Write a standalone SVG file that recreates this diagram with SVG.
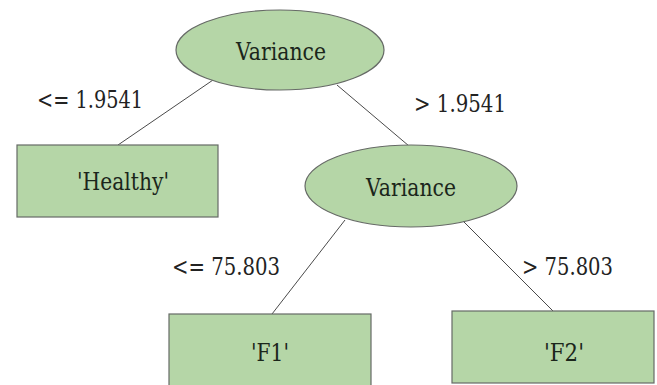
<svg xmlns="http://www.w3.org/2000/svg" width="657" height="385" viewBox="0 0 657 385">
  <style>
    .node { fill: #b5d6a7; stroke: #666a66; stroke-width: 1.2; }
    .edge { stroke: #4a4a4a; stroke-width: 1; fill: none; }
    text { fill: #1b261b; font-family: "DejaVu Serif", "Liberation Serif", serif; font-size: 24px; }
    .cond { fill: #222222; }
  </style>
  <rect width="657" height="385" fill="#ffffff"/>

  <g id="connectors">
    <line class="edge" x1="213" y1="80" x2="118" y2="145"/>
    <line class="edge" x1="337" y1="85" x2="409" y2="146"/>
    <line class="edge" x1="345" y1="220" x2="272" y2="314"/>
    <line class="edge" x1="462" y1="220" x2="553" y2="311"/>
  </g>

  <g id="edge-labels">
    <text class="cond" x="37" y="108" textLength="106" lengthAdjust="spacingAndGlyphs">&lt;= 1.9541</text>
    <text class="cond" x="414" y="112" textLength="92" lengthAdjust="spacingAndGlyphs">&gt; 1.9541</text>
    <text class="cond" x="172" y="275" textLength="108" lengthAdjust="spacingAndGlyphs">&lt;= 75.803</text>
    <text class="cond" x="522" y="275" textLength="91" lengthAdjust="spacingAndGlyphs">&gt; 75.803</text>
  </g>

  <g id="root">
    <ellipse class="node" cx="280" cy="50" rx="104" ry="40"/>
    <text x="281" y="60" text-anchor="middle" textLength="90" lengthAdjust="spacingAndGlyphs">Variance</text>
  </g>

  <g id="leaf-healthy">
    <rect class="node" x="17" y="145" width="201" height="72"/>
    <text x="123" y="190" text-anchor="middle" textLength="92" lengthAdjust="spacingAndGlyphs">'Healthy'</text>
  </g>

  <g id="split">
    <ellipse class="node" cx="411" cy="186" rx="106" ry="41"/>
    <text x="411" y="196" text-anchor="middle" textLength="90" lengthAdjust="spacingAndGlyphs">Variance</text>
  </g>

  <g id="leaf-f1">
    <rect class="node" x="169" y="314" width="202" height="76"/>
    <text x="270" y="361" text-anchor="middle" textLength="38" lengthAdjust="spacingAndGlyphs">'F1'</text>
  </g>

  <g id="leaf-f2">
    <rect class="node" x="452" y="311" width="202" height="72"/>
    <text x="564" y="361" text-anchor="middle" textLength="40" lengthAdjust="spacingAndGlyphs">'F2'</text>
  </g>
</svg>
